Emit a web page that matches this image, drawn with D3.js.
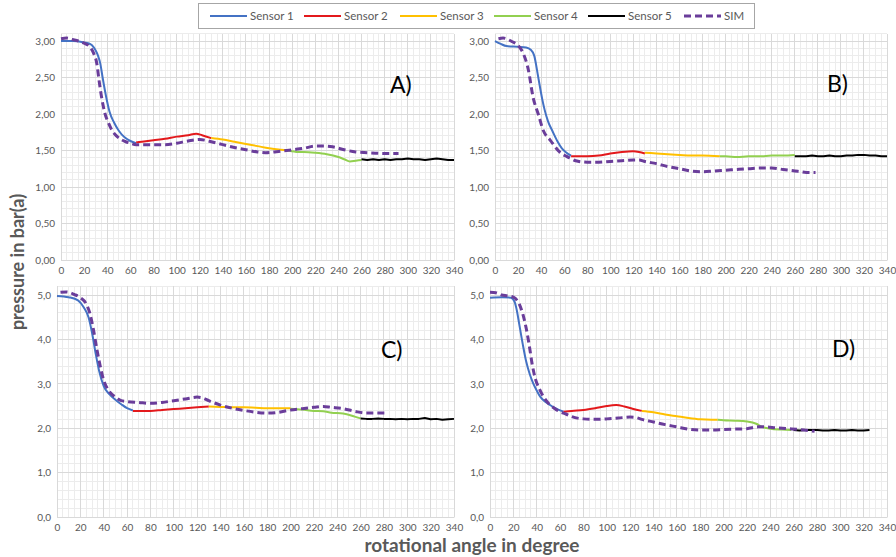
<!DOCTYPE html>
<html><head><meta charset="utf-8">
<script src="https://cdn.jsdelivr.net/npm/d3@7"></script>
<style>body{margin:0;background:#fff}svg{display:block}</style>
</head><body>
<svg id="c" width="896" height="557"></svg>
<script>
// ---------- data ----------
const seriesNames = ["Sensor 1","Sensor 2","Sensor 3","Sensor 4","Sensor 5","SIM"];
const xTicks = [0,20,40,60,80,100,120,140,160,180,200,220,240,260,280,300,320,340];
const yTicksTop = [0,0.5,1,1.5,2,2.5,3];
const yTicksBottom = [0,1,2,3,4,5];

// Panel A
const A_s1 = [[0,3.00],[10,3.00],[20,2.98],[25,2.96],[28,2.92],[30,2.87],[32,2.80],[34,2.69],[36,2.50],[39,2.24],[42,2.03],[46,1.88],[50,1.77],[55,1.68],[60,1.63],[65,1.60]];
const A_s2 = [[65,1.61],[70,1.62],[80,1.64],[90,1.66],[100,1.69],[110,1.71],[117,1.73],[122,1.71],[130,1.67]];
const A_s3 = [[130,1.67],[140,1.65],[150,1.62],[160,1.59],[170,1.56],[180,1.53],[190,1.51],[197,1.50]];
const A_s4 = [[197,1.50],[205,1.48],[210,1.48],[220,1.47],[230,1.45],[240,1.41],[245,1.38],[250,1.35],[255,1.36],[260,1.37]];
const A_s5 = [[260,1.38],[265,1.37],[270,1.38],[275,1.37],[280,1.38],[285,1.37],[290,1.38],[295,1.38],[300,1.39],[305,1.38],[310,1.38],[315,1.37],[320,1.38],[325,1.39],[330,1.38],[335,1.37],[340,1.37]];
const A_sim = [[0,3.03],[5,3.04],[10,3.02],[15,3.00],[20,2.97],[25,2.92],[28,2.84],[31,2.69],[33,2.45],[35,2.24],[38,2.01],[41,1.88],[44,1.78],[48,1.70],[52,1.65],[56,1.62],[60,1.60],[65,1.58],[70,1.58],[80,1.58],[90,1.58],[100,1.60],[110,1.63],[120,1.65],[125,1.64],[130,1.62],[140,1.58],[150,1.54],[160,1.51],[170,1.48],[177,1.47],[185,1.48],[190,1.49],[200,1.51],[210,1.53],[220,1.56],[228,1.56],[235,1.55],[245,1.51],[255,1.48],[265,1.47],[280,1.46],[292,1.46]];

// Panel B
const B_s1 = [[0,3.00],[5,2.96],[10,2.93],[20,2.92],[27,2.91],[31,2.88],[34,2.80],[37,2.55],[39,2.37],[41,2.20],[43,2.06],[46,1.90],[50,1.76],[54,1.63],[58,1.53],[62,1.47],[66,1.43]];
const B_s2 = [[66,1.42],[70,1.42],[80,1.42],[90,1.43],[100,1.46],[110,1.48],[120,1.49],[125,1.48],[130,1.46]];
const B_s3 = [[130,1.47],[140,1.46],[150,1.45],[160,1.44],[170,1.43],[180,1.43],[195,1.42]];
const B_s4 = [[195,1.42],[200,1.42],[210,1.41],[220,1.42],[230,1.42],[240,1.43],[250,1.43],[260,1.44]];
const B_s5 = [[260,1.42],[265,1.42],[270,1.42],[275,1.43],[280,1.42],[285,1.42],[290,1.43],[295,1.42],[300,1.42],[305,1.43],[310,1.43],[315,1.44],[320,1.44],[325,1.43],[330,1.43],[335,1.42],[340,1.42]];
const B_sim = [[3,3.03],[7,3.04],[15,2.99],[20,2.94],[24.5,2.83],[29,2.60],[33,2.23],[37.5,2.00],[42,1.77],[48,1.64],[56,1.48],[62,1.42],[66,1.39],[70,1.36],[80,1.34],[90,1.34],[100,1.35],[110,1.36],[120,1.37],[125,1.37],[130,1.35],[140,1.32],[150,1.28],[160,1.25],[170,1.22],[180,1.21],[190,1.22],[200,1.23],[210,1.24],[220,1.25],[230,1.26],[240,1.26],[250,1.24],[260,1.22],[265,1.21],[270,1.20],[278,1.20]];

// Panel C
const C_s1 = [[0,4.98],[10,4.95],[18,4.88],[23,4.72],[27,4.50],[30,4.15],[33,3.70],[36,3.30],[40,2.95],[45,2.76],[50,2.64],[55,2.54],[60,2.45],[65,2.40]];
const C_s2 = [[65,2.39],[70,2.39],[80,2.39],[90,2.41],[100,2.43],[110,2.45],[120,2.47],[130,2.49]];
const C_s3 = [[130,2.49],[140,2.48],[150,2.47],[160,2.47],[170,2.46],[180,2.45],[190,2.45],[200,2.45]];
const C_s4 = [[200,2.44],[210,2.42],[220,2.39],[228,2.38],[235,2.35],[245,2.33],[255,2.26],[260,2.22]];
const C_s5 = [[260,2.22],[265,2.21],[270,2.21],[275,2.22],[280,2.21],[285,2.21],[290,2.20],[295,2.21],[300,2.20],[305,2.21],[310,2.21],[315,2.23],[320,2.20],[325,2.21],[330,2.19],[335,2.20],[340,2.21]];
const C_sim = [[3,5.06],[8,5.07],[15,5.01],[20,4.94],[25,4.80],[28,4.60],[31,4.25],[34,3.80],[37,3.40],[40,3.08],[44,2.86],[50,2.70],[55,2.62],[60,2.60],[70,2.58],[80,2.56],[90,2.58],[100,2.62],[110,2.66],[120,2.70],[125,2.68],[130,2.62],[140,2.52],[150,2.45],[160,2.40],[170,2.36],[180,2.34],[190,2.36],[200,2.41],[210,2.44],[220,2.47],[228,2.49],[235,2.47],[245,2.44],[255,2.38],[265,2.34],[275,2.34],[283,2.34]];

// Panel D
const D_s1 = [[0,4.94],[10,4.95],[18,4.94],[21,4.85],[23,4.65],[25,4.35],[28,3.90],[31,3.50],[34,3.22],[37,3.01],[40,2.85],[43,2.71],[47,2.60],[51,2.53],[56,2.45],[60,2.40],[63,2.37]];
const D_s2 = [[63,2.37],[70,2.39],[80,2.41],[90,2.45],[100,2.50],[108,2.52],[115,2.49],[122,2.44],[130,2.39]];
const D_s3 = [[130,2.39],[140,2.36],[150,2.31],[160,2.27],[170,2.23],[180,2.20],[190,2.19],[195,2.19]];
const D_s4 = [[195,2.19],[200,2.18],[210,2.17],[220,2.15],[228,2.10],[233,2.03],[240,1.99],[250,1.97],[258,1.96]];
const D_s5 = [[260,1.96],[265,1.95],[270,1.96],[275,1.96],[280,1.96],[285,1.95],[290,1.95],[295,1.96],[300,1.95],[305,1.95],[310,1.96],[315,1.95],[320,1.95],[325,1.96]];
const D_sim = [[0,5.06],[5,5.05],[10,5.00],[15,4.98],[20,4.95],[25,4.80],[28,4.58],[31,4.25],[34,3.80],[36,3.46],[39,3.10],[42,2.90],[46,2.70],[50,2.56],[55,2.45],[60,2.37],[65,2.32],[70,2.26],[80,2.21],[90,2.20],[100,2.21],[110,2.23],[120,2.25],[125,2.24],[130,2.20],[140,2.14],[150,2.08],[160,2.03],[170,1.98],[180,1.96],[190,1.96],[200,1.97],[210,1.98],[220,1.99],[230,2.03],[235,2.03],[245,2.01],[255,1.99],[265,1.97],[275,1.94],[278,1.93]];

const panelLabels = ["A)","B)","C)","D)"];
const panelSeries = [
  [A_s1,A_s2,A_s3,A_s4,A_s5,A_sim],
  [B_s1,B_s2,B_s3,B_s4,B_s5,B_sim],
  [C_s1,C_s2,C_s3,C_s4,C_s5,C_sim],
  [D_s1,D_s2,D_s3,D_s4,D_s5,D_sim]
];

// ---------- styles / layout ----------
const colors = ["#4472C4","#E3191C","#FFC000","#92D050","#000000","#6A3D9A"];
const layouts = [
  {x0:61,x1:454,y0:260,yv:3,yvPix:41,ymax:3.1,ticks:yTicksTop,minor:0.1,fmt:".2f",lx:390,ly:93},
  {x0:495,x1:887,y0:260,yv:3,yvPix:41,ymax:3.1,ticks:yTicksTop,minor:0.1,fmt:".2f",lx:827,ly:92},
  {x0:57,x1:454,y0:517,yv:5,yvPix:295,ymax:5.2,ticks:yTicksBottom,minor:0.2,fmt:".1f",lx:381,ly:358},
  {x0:490,x1:887,y0:517,yv:5,yvPix:295,ymax:5.2,ticks:yTicksBottom,minor:0.2,fmt:".1f",lx:832,ly:357}
];
const font = "Lato, 'Open Sans', sans-serif";
const svg = d3.select("#c");
const deComma = s => s.replace(".", ",");

layouts.forEach((L,pi)=>{
  const x = d3.scaleLinear().domain([0,340]).range([L.x0,L.x1]);
  const pxPerUnit = (L.y0 - L.yvPix)/L.yv;
  const yTop = L.y0 - pxPerUnit*L.ymax;
  const y = d3.scaleLinear().domain([0,L.ymax]).range([L.y0,yTop]);
  const g = svg.append("g");

  // minor grid
  const minorX = d3.range(0,341,5).filter(v=>v%20!==0);
  g.selectAll(".mx").data(minorX).join("line")
    .attr("x1",d=>x(d)).attr("x2",d=>x(d)).attr("y1",L.y0).attr("y2",yTop)
    .attr("stroke","#ececec").attr("stroke-width",1).attr("shape-rendering","crispEdges");
  const nMinor = Math.round(L.ymax/L.minor);
  const minorY = d3.range(0,nMinor+1).map(i=>i*L.minor).filter(v=>!L.ticks.some(t=>Math.abs(t-v)<1e-6));
  g.selectAll(".my").data(minorY).join("line")
    .attr("x1",L.x0).attr("x2",L.x1).attr("y1",d=>y(d)).attr("y2",d=>y(d))
    .attr("stroke","#ececec").attr("stroke-width",1).attr("shape-rendering","crispEdges");
  // major grid
  g.selectAll(".Mx").data(xTicks).join("line")
    .attr("x1",d=>x(d)).attr("x2",d=>x(d)).attr("y1",L.y0).attr("y2",yTop)
    .attr("stroke","#d9d9d9").attr("stroke-width",1).attr("shape-rendering","crispEdges");
  g.selectAll(".My").data(L.ticks).join("line")
    .attr("x1",L.x0).attr("x2",L.x1).attr("y1",d=>y(d)).attr("y2",d=>y(d))
    .attr("stroke","#d9d9d9").attr("stroke-width",1).attr("shape-rendering","crispEdges");

  // axes (labels only)
  const fmt = d3.format(L.fmt);
  const yAxis = d3.axisLeft(y).tickValues(L.ticks).tickSize(0).tickPadding(6).tickFormat(d=>deComma(fmt(d)));
  const ya = g.append("g").attr("transform",`translate(${L.x0},0)`).call(yAxis);
  ya.select(".domain").remove();
  ya.selectAll("text").attr("font-family",font).attr("font-size",10).attr("fill","#595959");
  const xAxis = d3.axisBottom(x).tickValues(xTicks).tickSize(0).tickPadding(7);
  const xa = g.append("g").attr("transform",`translate(0,${L.y0})`).call(xAxis);
  xa.select(".domain").attr("stroke","#d9d9d9");
  xa.selectAll("text").attr("font-family",font).attr("font-size",10).attr("fill","#595959");

  // series
  const line = d3.line().x(d=>x(d[0])).y(d=>y(d[1])).curve(d3.curveMonotoneX);
  const lineLin = d3.line().x(d=>x(d[0])).y(d=>y(d[1]));
  panelSeries[pi].forEach((s,si)=>{
    if(si===5) return;
    g.append("path").attr("d", si===4 ? lineLin(s) : line(s)).attr("fill","none")
      .attr("stroke",colors[si]).attr("stroke-width",2).attr("stroke-linejoin","round");
  });
  g.append("path").attr("d",line(panelSeries[pi][5])).attr("fill","none")
    .attr("stroke",colors[5]).attr("stroke-width",3).attr("stroke-dasharray","7,4");

  g.append("text").attr("x",L.lx).attr("y",L.ly).text(panelLabels[pi])
    .attr("font-family",font).attr("font-size",23).attr("fill","#000");
});

// legend
const leg = svg.append("g");
const legX = [210,304,400,494,588,684];
leg.append("rect").attr("x",198.5).attr("y",3.5).attr("width",556).attr("height",25)
  .attr("fill","#fff").attr("stroke","#a6a6a6").attr("stroke-width",1);
seriesNames.forEach((n,i)=>{
  const lx = legX[i];
  leg.append("line").attr("x1",lx).attr("x2",lx+37).attr("y1",16).attr("y2",16)
    .attr("stroke",colors[i]).attr("stroke-width",i===5?3:2)
    .attr("stroke-dasharray",i===5?"7,4":null);
  leg.append("text").attr("x",lx+40).attr("y",20).text(n)
    .attr("font-family",font).attr("font-size",11.5).attr("fill","#595959");
});

// axis titles
svg.append("text").attr("transform","translate(24,262) rotate(-90)").attr("text-anchor","middle")
  .text("pressure in bar(a)").attr("font-family",font).attr("font-weight","bold")
  .attr("font-size",18).attr("fill","#595959");
svg.append("text").attr("x",472).attr("y",552).attr("text-anchor","middle")
  .text("rotational angle in degree").attr("font-family",font).attr("font-weight","bold")
  .attr("font-size",19).attr("fill","#595959");
</script>
</body></html>
